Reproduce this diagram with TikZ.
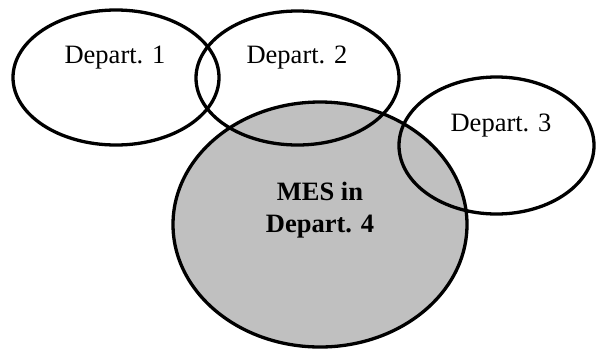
\documentclass[tikz,border=0pt]{standalone}
\usepackage{fontspec}
\setmainfont{Liberation Serif}
\usetikzlibrary{shapes.geometric}
\definecolor{mesgray}{RGB}{192,192,192}
\tikzset{
  dept/.style={ellipse, draw=black, line width=3.3pt, inner sep=0pt},
  depttext/.style={anchor=base, inner sep=0pt, font=\fontsize{26.5}{32}\selectfont}
}
\begin{document}
\begin{tikzpicture}[x=1pt, y=-1pt]
\useasboundingbox (0,0) rectangle (596,349);

% central department running the MES
\node[dept, fill=mesgray, minimum width=294pt, minimum height=245pt] (d4) at (320,224.5) {};

% surrounding departments
\node[dept, minimum width=206pt, minimum height=135pt] (d1) at (116,77.5) {};
\node[dept, minimum width=203pt, minimum height=134pt] (d2) at (297.5,78) {};
\node[dept, minimum width=195pt, minimum height=137pt] (d3) at (496.5,145.5) {};

% labels
\node[depttext] (t1) at (115,63) {Depart. 1};
\node[depttext] (t2) at (297,63) {Depart. 2};
\node[depttext] (t3) at (501,131) {Depart. 3};
\node[align=center, inner sep=0pt, font=\fontsize{26.5}{32}\selectfont\bfseries] (t4) at (320,210) {MES in\\Depart. 4};
\end{tikzpicture}
\end{document}
